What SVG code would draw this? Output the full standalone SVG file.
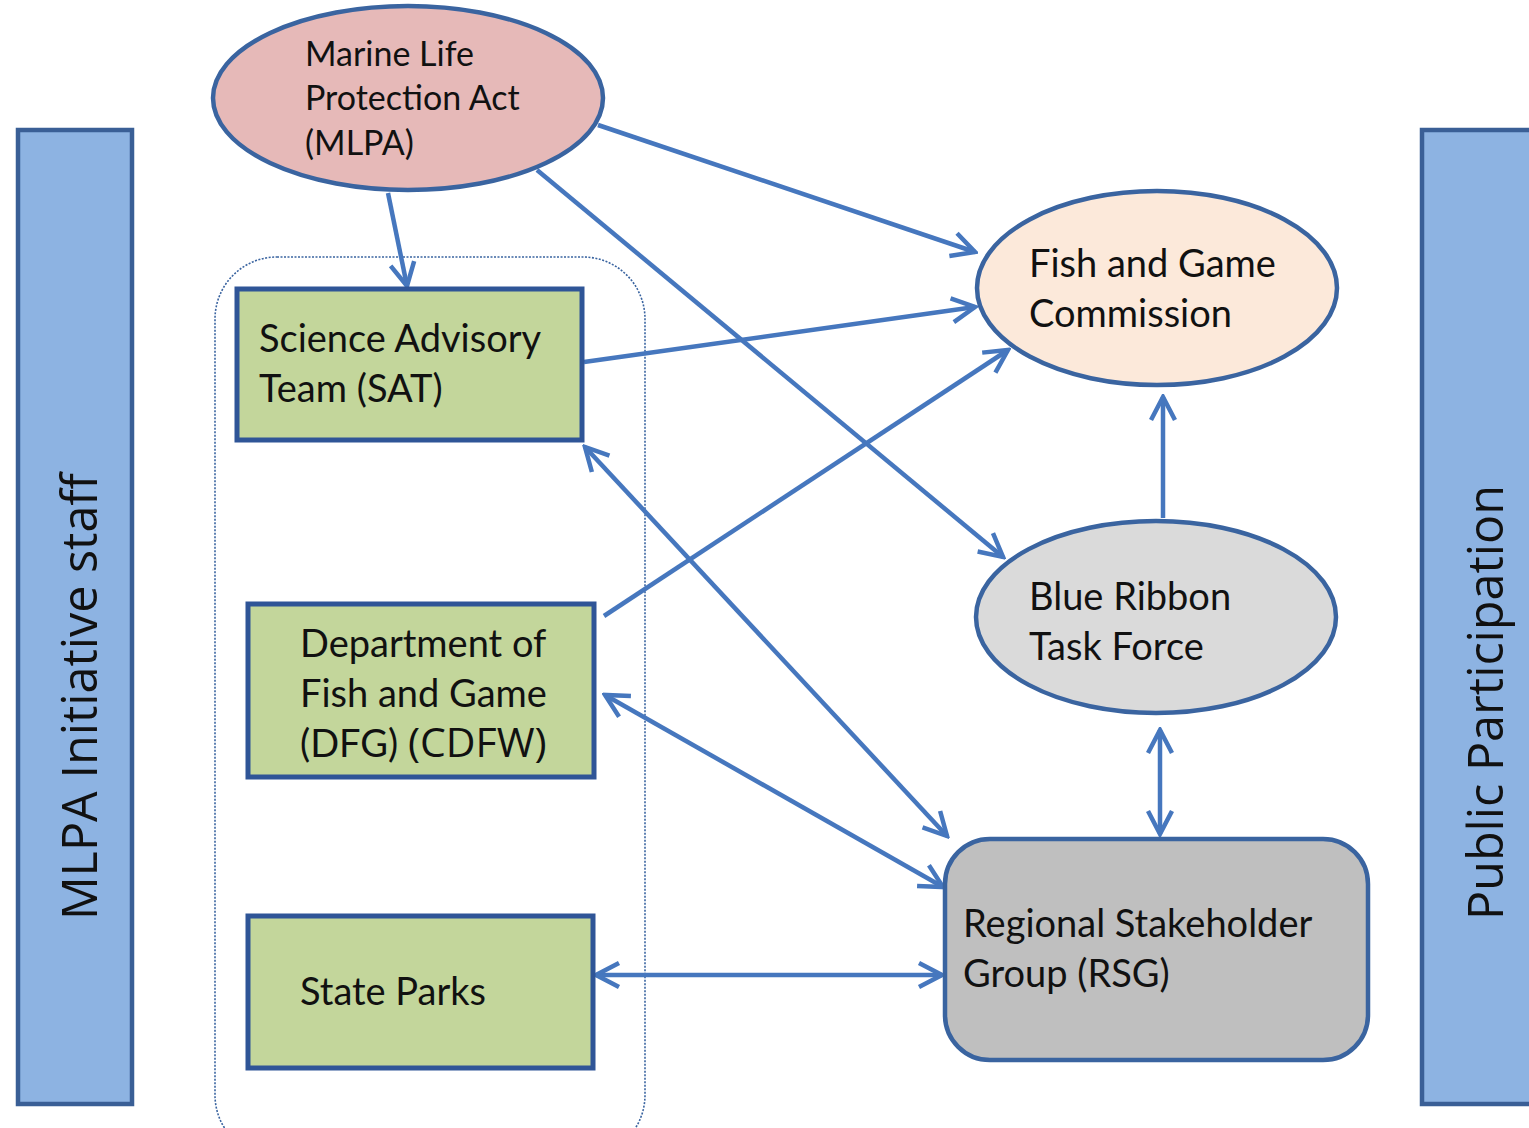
<svg xmlns="http://www.w3.org/2000/svg" width="1529" height="1128" viewBox="0 0 1529 1128">
<style>
.bar{fill:#8db3e2;stroke:#3a5f96;stroke-width:4.5}
.bartxt{font-family:"Open Sans","DejaVu Sans",sans-serif;font-size:48.5px;fill:#111}
.box{fill:#c3d69b;stroke:#2f5597;stroke-width:5}
.t{font-family:Lato,"Liberation Sans",sans-serif;font-size:38px;fill:#111}
.t34{font-family:Lato,"Liberation Sans",sans-serif;font-size:34px;fill:#111}
.ell{stroke:#3a64a0;stroke-width:4.5}
.conn{stroke:#4677be;stroke-width:4.5;fill:none}
</style>
<defs>
<marker id="ah" markerUnits="userSpaceOnUse" viewBox="0 0 30 30" markerWidth="30" markerHeight="30" refX="27" refY="15" orient="auto-start-reverse">
<path d="M4,3 L27,15 L4,27" fill="none" stroke="#4677be" stroke-width="4.5"/>
</marker>
</defs>
<rect width="1529" height="1128" fill="#ffffff"/>
<g id="staff">
<rect class="bar" x="18" y="130" width="114" height="974"/>
<text class="bartxt" transform="translate(97,920) rotate(-90)">MLPA Initiative staff</text>
</g>
<g id="public">
<rect class="bar" x="1422" y="130" width="120" height="974"/>
<text class="bartxt" transform="translate(1503,920) rotate(-90)">Public Participation</text>
</g>
<g id="container">
<rect x="215" y="257" width="430" height="900" rx="62" fill="none" stroke="#3a64a0" stroke-width="1.6" stroke-dasharray="2,1.5"/>
</g>
<g id="connectors">
<line class="conn" x1="388" y1="193" x2="407" y2="286" marker-end="url(#ah)"/>
<line class="conn" x1="598" y1="125" x2="975" y2="252" marker-end="url(#ah)"/>
<line class="conn" x1="537" y1="170" x2="1003" y2="557" marker-end="url(#ah)"/>
<line class="conn" x1="584" y1="362" x2="975" y2="307" marker-end="url(#ah)"/>
<line class="conn" x1="604" y1="616" x2="1008" y2="350" marker-end="url(#ah)"/>
<line class="conn" x1="585" y1="447" x2="947" y2="836" marker-start="url(#ah)" marker-end="url(#ah)"/>
<line class="conn" x1="605" y1="695" x2="943" y2="887" marker-start="url(#ah)" marker-end="url(#ah)"/>
<line class="conn" x1="596" y1="975" x2="942" y2="975" marker-start="url(#ah)" marker-end="url(#ah)"/>
<line class="conn" x1="1163" y1="518" x2="1163" y2="397" marker-end="url(#ah)"/>
<line class="conn" x1="1160" y1="730" x2="1160" y2="834" marker-start="url(#ah)" marker-end="url(#ah)"/>
</g>
<g id="mlpa">
<ellipse class="ell" cx="408" cy="98" rx="195" ry="92" fill="#e6b9b8"/>
<text class="t34"><tspan x="305" y="66">Marine Life</tspan><tspan x="305" y="110">Protection Act</tspan><tspan x="305" y="155">(MLPA)</tspan></text>
</g>
<g id="sat">
<rect class="box" x="237" y="289" width="345" height="151"/>
<text class="t"><tspan x="259" y="352">Science Advisory</tspan><tspan x="259" y="402">Team (SAT)</tspan></text>
</g>
<g id="dfg">
<rect class="box" x="248" y="604" width="346" height="173"/>
<text class="t"><tspan x="300" y="657">Department of</tspan><tspan x="300" y="707">Fish and Game</tspan><tspan x="300" y="757">(DFG) <tspan style="font-family:'Open Sans',sans-serif;font-size:41px">(CDFW)</tspan></tspan></text>
</g>
<g id="parks">
<rect class="box" x="248" y="916" width="345" height="152"/>
<text class="t" x="300" y="1005">State Parks</text>
</g>
<g id="fgc">
<ellipse class="ell" cx="1157" cy="288" rx="180" ry="97" fill="#fce9da"/>
<text class="t"><tspan x="1029" y="277">Fish and Game</tspan><tspan x="1029" y="327">Commission</tspan></text>
</g>
<g id="brtf">
<ellipse class="ell" cx="1156" cy="617" rx="180" ry="96" fill="#dadada"/>
<text class="t"><tspan x="1029" y="610">Blue Ribbon</tspan><tspan x="1029" y="660">Task Force</tspan></text>
</g>
<g id="rsg">
<rect x="945" y="839" width="423" height="221" rx="45" fill="#bfbfbf" stroke="#3a64a0" stroke-width="4.5"/>
<text class="t"><tspan x="963" y="937">Regional Stakeholder</tspan><tspan x="963" y="987">Group (RSG)</tspan></text>
</g>
</svg>
